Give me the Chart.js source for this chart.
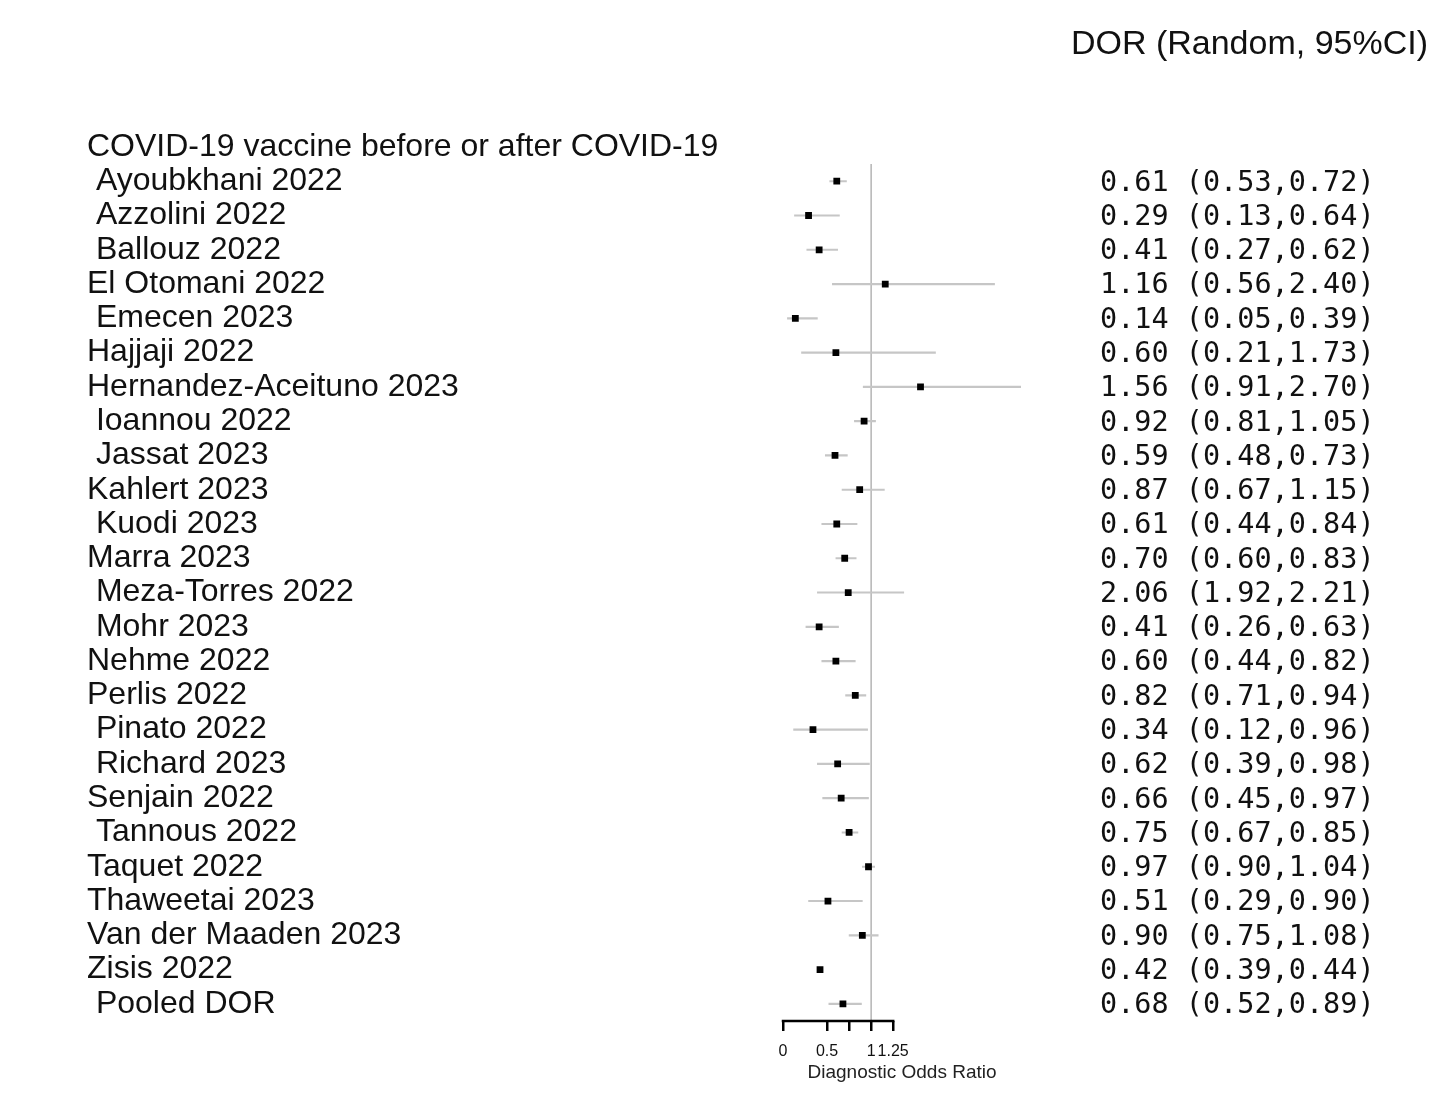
<!DOCTYPE html>
<html>
<head>
<meta charset="utf-8">
<script src="https://cdn.jsdelivr.net/npm/chart.js@4.4.1/dist/chart.umd.min.js"></script>
<style>
  html, body { margin: 0; padding: 0; background: #fff; overflow: hidden; }
  #forest { display: block; width: 1456px; height: 1106px; }
</style>
</head>
<body>
<canvas id="forest" width="1456" height="1106"></canvas>
<script>
// Données
const groupLabel = 'COVID-19 vaccine before or after COVID-19';
const studies = [
    ' Ayoubkhani 2022', ' Azzolini 2022', ' Ballouz 2022', 'El Otomani 2022',
    ' Emecen 2023', 'Hajjaji 2022', 'Hernandez-Aceituno 2023', ' Ioannou 2022',
    ' Jassat 2023', 'Kahlert 2023', ' Kuodi 2023', 'Marra 2023',
    ' Meza-Torres 2022', ' Mohr 2023', 'Nehme 2022', 'Perlis 2022',
    ' Pinato 2022', ' Richard 2023', 'Senjain 2022', ' Tannous 2022',
    'Taquet 2022', 'Thaweetai 2023', 'Van der Maaden 2023', 'Zisis 2022',
    ' Pooled DOR'
];
// position des marqueurs telle que dessinée
const dor   = [0.61, 0.29, 0.41, 1.16, 0.14, 0.60, 1.56, 0.92, 0.59, 0.87, 0.61, 0.70, 0.74,
               0.41, 0.60, 0.82, 0.34, 0.62, 0.66, 0.75, 0.97, 0.51, 0.90, 0.42, 0.68];
const lower = [0.53, 0.13, 0.27, 0.56, 0.05, 0.21, 0.91, 0.81, 0.48, 0.67, 0.44, 0.60, 0.39,
               0.26, 0.44, 0.71, 0.12, 0.39, 0.45, 0.67, 0.90, 0.29, 0.75, 0.39, 0.52];
const upper = [0.72, 0.64, 0.62, 2.40, 0.39, 1.73, 2.70, 1.05, 0.73, 1.15, 0.84, 0.83, 1.37,
               0.63, 0.82, 0.94, 0.96, 0.98, 0.97, 0.85, 1.04, 0.90, 1.08, 0.44, 0.89];
// colonne de droite (texte affiché)
const dorText = [
    '0.61 (0.53,0.72)', '0.29 (0.13,0.64)', '0.41 (0.27,0.62)', '1.16 (0.56,2.40)',
    '0.14 (0.05,0.39)', '0.60 (0.21,1.73)', '1.56 (0.91,2.70)', '0.92 (0.81,1.05)',
    '0.59 (0.48,0.73)', '0.87 (0.67,1.15)', '0.61 (0.44,0.84)', '0.70 (0.60,0.83)',
    '2.06 (1.92,2.21)', '0.41 (0.26,0.63)', '0.60 (0.44,0.82)', '0.82 (0.71,0.94)',
    '0.34 (0.12,0.96)', '0.62 (0.39,0.98)', '0.66 (0.45,0.97)', '0.75 (0.67,0.85)',
    '0.97 (0.90,1.04)', '0.51 (0.29,0.90)', '0.90 (0.75,1.08)', '0.42 (0.39,0.44)',
    '0.68 (0.52,0.89)'
];
const xTicks = [0, 0.5, 0.75, 1, 1.25];
const xTickLabels = ['0', '0.5', '', '1', '1.25'];
const xMax = 2.7;
const refValue = 1;

const rowLabels = [groupLabel, ...studies];
const rightLabels = ['', ...dorText];

const sans = "'Liberation Sans', Arial, sans-serif";
const mono = "'DejaVu Sans Mono', monospace";

// les étiquettes des axes verticaux ne doivent pas rogner la zone du graphique
function noVerticalPadding(s) {
    s.paddingTop = 0;
    s.paddingBottom = 0;
}

// Axe du bas (ligne partielle) et ligne de référence
const forestDecor = {
    id: 'forestDecor',
    beforeDatasetsDraw(chart) {
        const { ctx, chartArea, scales } = chart;
        const x = scales.x, y = scales.y;
        ctx.save();
        ctx.strokeStyle = '#b4b4b4';
        ctx.lineWidth = 1.5;
        const xr = x.getPixelForValue(refValue);
        ctx.beginPath();
        ctx.moveTo(xr, y.getPixelForValue(0.5));
        ctx.lineTo(xr, chartArea.bottom);
        ctx.stroke();
        ctx.restore();
    },
    afterDraw(chart) {
        const { ctx, chartArea, scales } = chart;
        const x = scales.x;
        ctx.save();
        ctx.strokeStyle = '#000';
        ctx.lineWidth = 2.5;
        ctx.beginPath();
        ctx.moveTo(x.getPixelForValue(xTicks[0]) - 1.25, chartArea.bottom);
        ctx.lineTo(x.getPixelForValue(xTicks[xTicks.length - 1]) + 1.25, chartArea.bottom);
        ctx.stroke();
        ctx.restore();
    }
};

new Chart(document.getElementById('forest'), {
    type: 'bar',
    data: {
        labels: rowLabels,
        datasets: [{
            type: 'scatter',
            data: dor.map((v, i) => ({ x: v, y: studies[i] })),
            pointStyle: 'rect',
            pointRadius: 4.8,
            backgroundColor: '#000',
            borderColor: '#000',
            borderWidth: 0,
            xAxisID: 'x',
            yAxisID: 'y'
        }, {
            type: 'bar',
            data: [null, ...lower.map((lo, i) => [lo, upper[i]])],
            backgroundColor: '#c6c6c6',
            borderWidth: 0,
            barThickness: 1.5,
            xAxisID: 'x',
            yAxisID: 'y'
        }]
    },
    options: {
        indexAxis: 'y',
        responsive: false,
        animation: false,
        layout: { padding: { left: 87, right: 28, top: 0, bottom: 0 } },
        plugins: {
            legend: { display: false },
            tooltip: { enabled: false },
            title: {
                display: true,
                text: 'DOR (Random, 95%CI)',
                align: 'end',
                color: '#111',
                font: { family: sans, size: 34, weight: 'normal' },
                padding: { top: 24, bottom: 65 }
            }
        },
        scales: {
            x: {
                type: 'linear',
                min: 0,
                max: xMax,
                afterBuildTicks: s => { s.ticks = xTicks.map(v => ({ value: v })); },
                afterFit: s => { s.height = 85; },
                grid: { drawOnChartArea: false, drawTicks: true, tickLength: 10, color: '#000', lineWidth: 2.5 },
                border: { display: false },
                ticks: {
                    autoSkip: false,
                    maxRotation: 0,
                    padding: 11,
                    color: '#111',
                    font: { family: sans, size: 16 },
                    callback: (v, i) => xTickLabels[i]
                },
                title: {
                    display: true,
                    text: 'Diagnostic Odds Ratio',
                    color: '#222',
                    font: { family: sans, size: 19 },
                    padding: { top: 0, bottom: 22 }
                }
            },
            y: {
                type: 'category',
                position: 'left',
                offset: true,
                afterFit: s => { s.width = 696; noVerticalPadding(s); },
                grid: { display: false, drawTicks: false },
                border: { display: false },
                ticks: {
                    crossAlign: 'far',
                    autoSkip: false,
                    color: '#111',
                    font: { family: sans, size: 32 }
                }
            },
            y2: {
                type: 'category',
                position: 'right',
                labels: rightLabels,
                offset: true,
                afterFit: s => { s.width = 407; noVerticalPadding(s); },
                grid: { display: false, drawTicks: false },
                border: { display: false },
                ticks: {
                    crossAlign: 'near',
                    autoSkip: false,
                    padding: 79,
                    labelOffset: 2,
                    color: '#111',
                    font: { family: mono, size: 28.5 }
                }
            }
        }
    },
    plugins: [forestDecor]
});
</script>
</body>
</html>
